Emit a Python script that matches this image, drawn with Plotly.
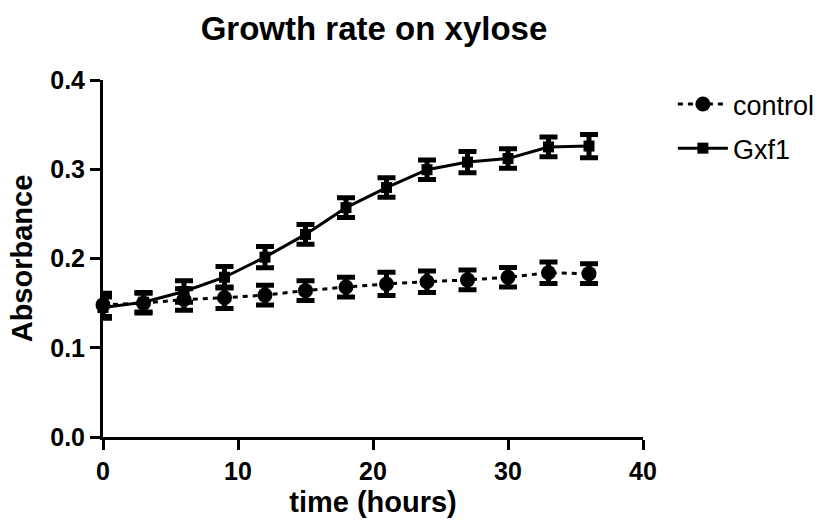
import plotly.graph_objects as go

time_h = [0, 3, 6, 9, 12, 15, 18, 21, 24, 27, 30, 33, 36]
control = [0.148, 0.150, 0.154, 0.156, 0.159, 0.164, 0.168, 0.1715, 0.174, 0.176, 0.179, 0.184, 0.183]
control_err = [0.013, 0.011, 0.012, 0.012, 0.011, 0.011, 0.011, 0.013, 0.012, 0.011, 0.011, 0.012, 0.011]
gxf1 = [0.145, 0.151, 0.163, 0.179, 0.2015, 0.227, 0.257, 0.2795, 0.2995, 0.308, 0.312, 0.325, 0.326]
gxf1_err = [0.012, 0.011, 0.012, 0.012, 0.012, 0.011, 0.011, 0.011, 0.011, 0.012, 0.011, 0.011, 0.013]

font = "Liberation Sans, Arial, sans-serif"

fig = go.Figure()
fig.add_trace(go.Scatter(
    x=time_h, y=control, name="control", mode="lines+markers", legendgroup="a",
    line=dict(color="black", width=3, dash="5px,5px"),
    marker=dict(symbol="circle", size=15, color="black"),
    error_y=dict(type="data", array=control_err, color="black", thickness=5, width=9),
    cliponaxis=False,
))
fig.add_trace(go.Scatter(
    x=time_h, y=gxf1, name="Gxf1", mode="lines+markers", legendgroup="b",
    line=dict(color="black", width=3),
    marker=dict(symbol="square", size=11, color="black"),
    error_y=dict(type="data", array=gxf1_err, color="black", thickness=5, width=9),
    cliponaxis=False,
))

fig.update_layout(
    width=832, height=525,
    margin=dict(l=103, r=187, t=80, b=86),
    paper_bgcolor="white", plot_bgcolor="white",
    title=dict(text="<b>Growth rate on xylose</b>", x=(103 + 645) / 2 / 832, xanchor="center",
               y=1 - 28 / 525, yanchor="middle", font=dict(family=font, size=33, color="black")),
    font=dict(family=font, color="black"),
    legend=dict(x=(675 - 103) / 542, xanchor="left", y=1.0, yanchor="top",
                font=dict(family=font, size=27, color="black"),
                bgcolor="rgba(0,0,0,0)", traceorder="grouped", tracegroupgap=6, itemwidth=50),
    xaxis=dict(range=[0, 40], tickvals=[0, 10, 20, 30, 40], ticktext=["<b>0</b>", "<b>10</b>", "<b>20</b>", "<b>30</b>", "<b>40</b>"],
               showgrid=False, zeroline=False, showline=True, linecolor="black", linewidth=3,
               ticks="outside", ticklen=10, tickwidth=3, tickcolor="black",
               tickfont=dict(family=font, size=25, color="black"),
               title=dict(text="<b>time (hours)</b>", font=dict(family=font, size=29, color="black"), standoff=8)),
    yaxis=dict(range=[0, 0.4], tickvals=[0, 0.1, 0.2, 0.3, 0.4], ticktext=["<b>0.0</b>", "<b>0.1</b>", "<b>0.2</b>", "<b>0.3</b>", "<b>0.4</b>"],
               showgrid=False, zeroline=False, showline=True, linecolor="black", linewidth=3,
               ticks="outside", ticklen=10, tickwidth=3, tickcolor="black",
               tickfont=dict(family=font, size=25, color="black"),
               title=dict(text="<b>Absorbance</b>", font=dict(family=font, size=29, color="black"), standoff=10)),
)

fig.write_html("out.html")
